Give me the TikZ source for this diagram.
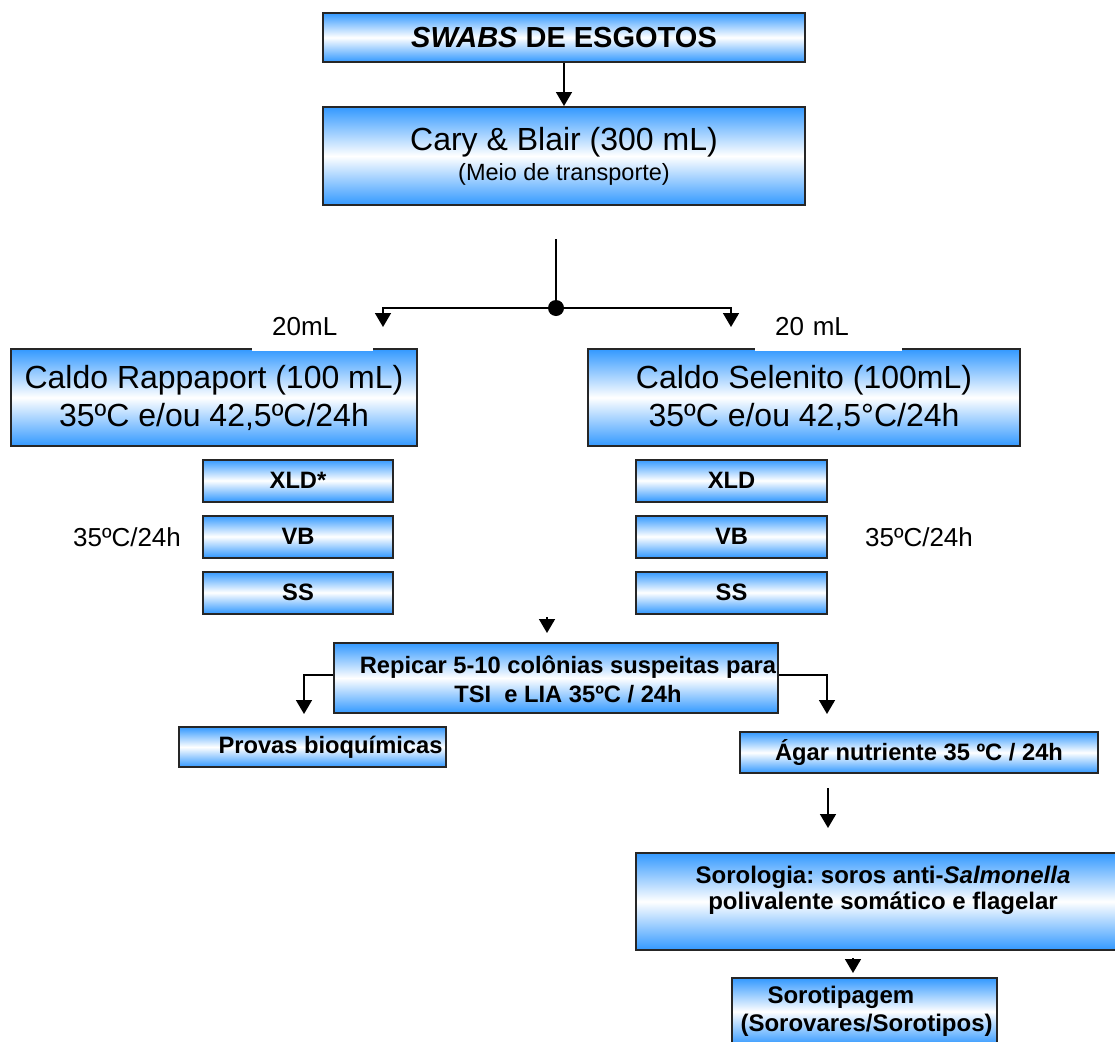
\documentclass[tikz,border=0pt]{standalone}
\usepackage{fontspec}
\setmainfont{Liberation Sans}
\usetikzlibrary{arrows.meta}
\definecolor{boxblue}{RGB}{51,153,255}
\frenchspacing

\begin{document}
\begin{tikzpicture}[x=1pt,y=-1pt,
  box/.style={draw=black!85,line width=2pt,top color=boxblue,bottom color=boxblue,middle color=white,inner sep=0pt},
  big/.style={font=\fontsize{32}{38}\selectfont},
  bold/.style={font=\fontsize{23.7}{29}\selectfont\bfseries},
  plain/.style={font=\fontsize{26}{30}\selectfont},
  arr/.style={line width=1.6pt,-{Triangle[width=16pt,length=14pt]}},
  lbl/.style={fill=white,inner xsep=20pt,inner ysep=16pt,align=left,anchor=base west,font=\fontsize{26}{30}\selectfont}]
\useasboundingbox (0,0) rectangle (1115,1041);

\node[box,minimum width=482pt,minimum height=49pt,font=\fontsize{29}{34}\selectfont\bfseries] (swabs) at (564,37.5) {\textit{SWABS} DE ESGOTOS};
\node[box,minimum width=482pt,minimum height=98pt,align=center,big] (cary) at (564,156)
  {Cary \& Blair (300 mL)\\[-8pt]{\fontsize{23.5}{28}\selectfont (Meio de transporte)}};
\draw[arr] (swabs) -- (cary);

\coordinate (fork) at (556,239);
\node[circle,fill,inner sep=0pt,minimum size=16pt] (dot) at (556,308) {};
\coordinate (toL) at (383,327);
\coordinate (toR) at (731,327);
\draw[line width=1.6pt] (fork) -- (dot);
\draw[arr] (dot) -| (toL);
\draw[arr] (dot) -| (toR);

\node[box,minimum width=406pt,minimum height=97pt,align=center,big] (rapp) at (214,397.5)
  {Caldo Rappaport (100 mL)\\35ºC e/ou 42,5ºC/24h};
\node[box,minimum width=432pt,minimum height=97pt,align=center,big] (selen) at (804,397.5)
  {Caldo Selenito (100mL)\\35ºC e/ou 42,5°C/24h};
\node[lbl,text width=81pt] (volL) at (252,335) {20mL};
\node[lbl,text width=107pt] (volR) at (755,335) {20 mL};

\node[box,minimum width=190pt,minimum height=42pt,bold] (xldL) at (298,480.5) {XLD*};
\node[box,minimum width=190pt,minimum height=42pt,bold] (vbL) at (298,536.5) {VB};
\node[box,minimum width=190pt,minimum height=42pt,bold] (ssL) at (298,592.5) {SS};
\node[box,minimum width=191pt,minimum height=42pt,bold] (xldR) at (731.5,480.5) {XLD};
\node[box,minimum width=191pt,minimum height=42pt,bold] (vbR) at (731.5,536.5) {VB};
\node[box,minimum width=191pt,minimum height=42pt,bold] (ssR) at (731.5,592.5) {SS};
\node[plain] (tempL) at (127,537) {35ºC/24h};
\node[plain] (tempR) at (919,537) {35ºC/24h};

\coordinate (repin) at (547,617);
\coordinate (repend) at (547,633);
\draw[arr] (repin) -- (repend);

\node[box,minimum width=444pt,minimum height=70pt] (repicar) at (556,678) {};
\node[align=center,bold] (repicartxt) at (568,679)
  {Repicar 5-10 colônias suspeitas para\\TSI\ \ e LIA 35ºC / 24h};
\coordinate (provin) at (304,714);
\coordinate (agarin) at (827,714);
\draw[arr] ([yshift=3pt]repicar.west) -| (provin);
\draw[arr] ([yshift=3pt]repicar.east) -| (agarin);

\node[box,minimum width=267pt,minimum height=40pt] (provas) at (312.5,747) {};
\node[bold] (provastxt) at (330.5,747) {Provas bioquímicas};
\node[box,minimum width=358pt,minimum height=41pt,bold] (agar) at (919,752.5) {Ágar nutriente 35 ºC / 24h};

\coordinate (agarout) at (828,788);
\coordinate (soroin) at (828,828);
\draw[arr] (agarout) -- (soroin);

\node[box,minimum width=480pt,minimum height=97pt] (soro) at (876,901.5) {};
\node[align=center,font=\fontsize{24}{26}\selectfont\bfseries] (sorotxt) at (883,890)
  {Sorologia: soros anti-\textit{Salmonella}\\polivalente somático e flagelar};

\coordinate (tipin) at (853,958);
\coordinate (tipend) at (853,973);
\draw[arr] (tipin) -- (tipend);

\node[box,minimum width=265pt,minimum height=67pt] (tipagem) at (864.5,1011.5) {};
\node[align=left,anchor=west,font=\fontsize{24}{28}\selectfont\bfseries] (tipagemtxt) at (737,1011)
  {\hspace*{27pt}Sorotipagem\\(Sorovares/Sorotipos)};
\end{tikzpicture}
\end{document}
